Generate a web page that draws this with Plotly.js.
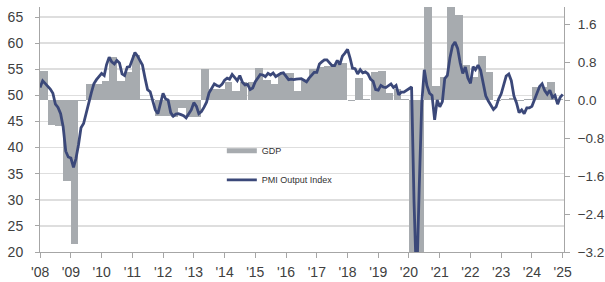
<!DOCTYPE html>
<html>
<head>
<meta charset="utf-8">
<script src="https://cdn.plot.ly/plotly-3.0.1.min.js"></script>
<style>html,body{margin:0;padding:0;background:#fff;}#chart{width:605px;height:282px;}</style>
</head>
<body>
<div id="chart"></div>
<script>
// Quarterly GDP, % q/q (right axis), 2008 Q1 .. 2024 Q4
const gdpStartYear = 2008;
const gdpValues = [
  0.62, -0.53, -0.55, -1.70,
  -3.03, -0.02, 0.35, 0.35,
  0.40, 0.91, 0.41, 0.60,
  0.95, 0.02, 0.03, -0.32,
  -0.32, -0.35, -0.17, -0.35,
  -0.35, 0.66, 0.25, 0.25,
  0.39, 0.20, 0.39, 0.39,
  0.69, 0.42, 0.35, 0.55,
  0.58, 0.20, 0.42, 0.67,
  0.70, 0.72, 0.76, 0.78,
  -0.02, 0.47, 0.02, 0.60,
  0.62, 0.15, 0.25, 0.02,
  -3.70, -11.50, 12.50, 0.30,
  0.50, 2.20, 1.80, 0.74,
  0.50, 0.93, 0.60, -0.02,
  0.02, 0.05, -0.02, 0.03,
  0.28, 0.28, 0.38, 0.02
];
// Monthly PMI Output Index (left axis), Jan 2008 .. Jan 2025
const pmiStartYear = 2008;
const pmiValues = [
  51.5, 52.8, 52.3, 51.8, 51.2, 50.4, 48.3, 47.7, 46.5, 44.0, 39.3, 38.2,
  38.0, 36.2, 37.8, 40.5, 43.8, 44.6, 46.3, 48.5, 50.5, 52.2, 53.0, 53.6,
  54.2, 53.8, 55.9, 57.3, 56.4, 56.0, 56.7, 56.2, 54.1, 53.8, 55.4, 55.5,
  57.0, 58.2, 57.6, 56.8, 55.8, 53.3, 51.1, 50.7, 49.1, 47.2, 46.5, 48.3,
  50.4, 49.3, 49.1, 46.7, 46.0, 46.4, 46.5, 46.3, 46.1, 45.7, 46.5, 47.2,
  48.6, 47.9, 46.5, 46.9, 47.7, 48.7, 50.5, 51.5, 52.2, 51.9, 51.7, 52.1,
  52.9, 53.3, 53.1, 54.0, 53.5, 52.8, 53.8, 52.5, 52.0, 52.1, 51.1, 51.4,
  52.6, 53.3, 54.0, 53.9, 53.6, 54.2, 53.9, 54.3, 53.6, 53.9, 54.2, 54.3,
  53.6, 53.0, 53.1, 53.0, 53.1, 53.1, 53.2, 52.9, 52.6, 53.3, 53.9, 54.4,
  54.4, 56.0, 56.4, 56.8, 56.8, 56.3, 55.7, 55.7, 56.7, 55.9, 57.5, 58.1,
  58.8, 57.1, 55.2, 55.1, 54.1, 54.9, 54.3, 54.5, 54.1, 53.1, 52.7, 51.1,
  51.0, 51.9, 51.6, 51.5, 51.8, 52.2, 51.5, 51.9, 50.1, 50.6, 50.6, 50.9,
  51.3, 51.6, 29.7, 13.6, 31.9, 48.5, 54.9, 51.9, 50.4, 50.0, 45.3, 49.1,
  47.8, 48.8, 53.2, 53.8, 57.1, 59.5, 60.2, 59.0, 56.2, 54.2, 55.4, 53.3,
  52.3, 55.5, 54.9, 55.8, 54.8, 52.0, 49.9, 48.9, 48.1, 47.3, 47.8, 49.3,
  50.3, 52.0, 53.7, 54.1, 52.8, 49.9, 48.6, 46.7, 47.2, 46.5, 47.6, 47.6,
  47.9, 49.2, 50.3, 51.7, 52.2, 50.9, 50.2, 51.0, 49.6, 50.0, 48.3, 49.6,
  50.2
];
const seriesNames = ["GDP", "PMI Output Index"];
const yearTickLabelsFormat = "'%y";

function pad(n){return (n<10?'0':'')+n;}
const gdpDates = gdpValues.map((v,i)=>{
  const y = gdpStartYear + Math.floor(i/4);
  const m = 3*(i%4)+1;
  return y+'-'+pad(m)+'-01';
});
const pmiDates = pmiValues.map((v,i)=>{
  const y = pmiStartYear + Math.floor(i/12);
  const m = (i%12)+1;
  return y+'-'+pad(m)+'-01';
});

const GREY = '#a7abaf';
const NAVY = '#3b4879';
const FONT = 'Liberation Sans, Arial, sans-serif';

const data = [
  {type:'scatter', mode:'lines', x:[null], y:[null], name:seriesNames[0],
   line:{color:GREY, width:5}, yaxis:'y', legendgroup:'a', showlegend:true, hoverinfo:'skip'},
  {type:'bar', x:gdpDates, y:gdpValues, xperiod:'M3', xperiodalignment:'middle',
   marker:{color:GREY, line:{width:0}}, yaxis:'y', showlegend:false, name:seriesNames[0]},
  {type:'scatter', mode:'lines', x:pmiDates, y:pmiValues, name:seriesNames[1],
   line:{color:NAVY, width:2.8}, yaxis:'y2', legendgroup:'b'}
];

const layout = {
  width:605, height:282,
  margin:{l:40, r:41, t:7, b:30},
  paper_bgcolor:'#fff', plot_bgcolor:'rgba(0,0,0,0)',
  font:{family:FONT, color:'#404040'},
  bargap:0,
  showlegend:true,
  legend:{x:0.347, y:0.472, xanchor:'left', yanchor:'top', bgcolor:'rgba(0,0,0,0)',
          font:{size:9, color:'#333', family:FONT}, tracegroupgap:10, traceorder:'grouped'},
  xaxis:{type:'date', range:['2007-12-31','2025-01-16'], dtick:'M12', tick0:'2008-01-01',
         tickformat:yearTickLabelsFormat, ticks:'outside', ticklen:5, tickcolor:'#a6a6a6',
         showline:true, linecolor:'#a6a6a6', linewidth:1, showgrid:false, zeroline:false,
         tickfont:{size:14, color:'#404040'}, ticklabelstandoff:2},
  yaxis:{side:'right', range:[-3.2, 1.97], dtick:0.8, tick0:-3.2, tickformat:'.1f',
         ticks:'outside', ticklen:5, tickcolor:'#a6a6a6', showline:true, linecolor:'#a6a6a6',
         showgrid:false, zeroline:false, tickfont:{size:13.5, color:'#404040'}, ticklabelstandoff:5},
  yaxis2:{side:'left', overlaying:'y', range:[20, 66.92], dtick:5, tick0:20,
          ticks:'outside', ticklen:4, tickcolor:'#a6a6a6', showline:true, linecolor:'#a6a6a6',
          showgrid:true, gridcolor:'#dedede', gridwidth:1.5, zeroline:false,
          tickfont:{size:14, color:'#404040'}, ticklabelstandoff:9}
};

Plotly.newPlot('chart', data, layout, {staticPlot:true, displayModeBar:false});
</script>
</body>
</html>
